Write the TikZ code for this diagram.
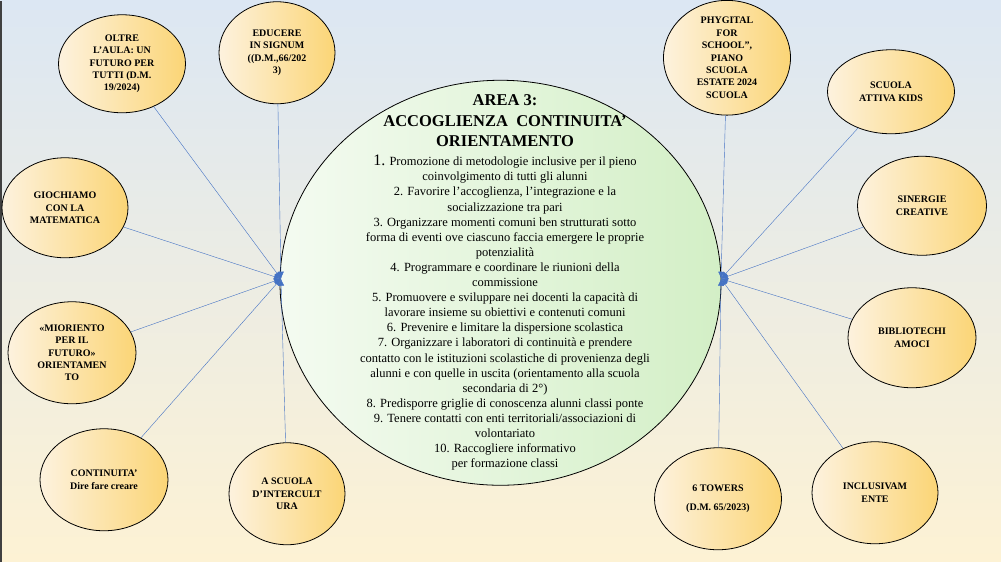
\documentclass[tikz,border=0pt]{standalone}
\usepackage{fontspec}
\setmainfont{LiberationSerif}[Extension=.ttf,UprightFont=*-Regular,BoldFont=*-Bold,ItalicFont=*-Italic,BoldItalicFont=*-BoldItalic]
\usetikzlibrary{arrows.meta,shapes.geometric,positioning}
\definecolor{bgTop}{RGB}{220,231,243}
\definecolor{bgBottom}{RGB}{253,242,212}
\definecolor{linkBlue}{RGB}{68,114,196}
\definecolor{ballLight}{RGB}{253,242,222}
\definecolor{ballDark}{RGB}{251,213,118}
\definecolor{areaLight}{RGB}{244,251,241}
\definecolor{areaDark}{RGB}{211,239,198}

\begin{document}
\begin{tikzpicture}[x=1pt,y=-1pt,
  ball/.style={ellipse,draw=black,thick,left color=ballLight,right color=ballDark,
    inner sep=0pt,align=center,font=\bfseries\fontsize{10}{12.4}\selectfont},
  link/.style={linkBlue,-{Latex[length=7pt,width=6pt]}}]
  % background
  \fill[top color=bgTop,bottom color=bgBottom] (0,0) rectangle (1001,561);
  \fill[black!75] (0,0) rectangle (2,561);
  % central area
  \node[ellipse,draw=black,thick,left color=areaLight,right color=areaDark,
    minimum width=441pt,minimum height=405pt] (area) at (500.5,282) {};
  \node[font=\bfseries\fontsize{16.5}{20.5}\selectfont,align=center] (areaTitle) at (505,120)
    {AREA 3:\\ACCOGLIENZA\ \ CONTINUITA’\\ORIENTAMENTO};
  \node[font=\fontsize{12.5}{15.1}\selectfont,align=center] (areaList) at (505,312)
    {{\fontsize{16}{15.1}\selectfont 1.} Promozione di metodologie inclusive per il pieno\\
    coinvolgimento di tutti gli alunni\\
    2. Favorire l’accoglienza, l’integrazione e la\\
    socializzazione tra pari\\
    3. Organizzare momenti comuni ben strutturati sotto\\
    forma di eventi ove ciascuno faccia emergere le proprie\\
    potenzialità\\
    4. Programmare e coordinare le riunioni della\\
    commissione\\
    5. Promuovere e sviluppare nei docenti la capacità di\\
    lavorare insieme su obiettivi e contenuti comuni\\
    6. Prevenire e limitare la dispersione scolastica\\
    7. Organizzare i laboratori di continuità e prendere\\
    contatto con le istituzioni scolastiche di provenienza degli\\
    alunni e con quelle in uscita (orientamento alla scuola\\
    secondaria di 2°)\\
    8. Predisporre griglie di conoscenza alunni classi ponte\\
    9. Tenere contatti con enti territoriali/associazioni di\\
    volontariato\\
    10. Raccogliere informativo\\
    per formazione classi};
  \coordinate (hubL) at (281,278);
  \coordinate (hubR) at (721,278);
  % left projects
  \node[ball,minimum width=127pt,minimum height=98pt] (oltre) at (122,63)
    {OLTRE\\L’AULA: UN\\FUTURO PER\\TUTTI (D.M.\\19/2024)};
  \node[ball,minimum width=116pt,minimum height=102pt] (educere) at (277,52)
    {EDUCERE\\IN SIGNUM\\((D.M.,66/202\\3)};
  \node[ball,minimum width=126pt,minimum height=100pt] (giochiamo) at (65,207)
    {GIOCHIAMO\\CON LA\\MATEMATICA};
  \node[ball,minimum width=128pt,minimum height=102pt] (mioriento) at (72,352)
    {«MIORIENTO\\PER IL\\FUTURO»\\ORIENTAMEN\\TO};
  \node[ball,minimum width=128pt,minimum height=102pt] (continuita) at (104,479)
    {CONTINUITA’\\Dire fare creare};
  \node[ball,minimum width=116pt,minimum height=102pt] (intercultura) at (287,493)
    {A SCUOLA\\D’INTERCULT\\URA};
  % right projects
  \node[ball,minimum width=127pt,minimum height=104pt] (phygital) at (727,57)
    {PHYGITAL\\FOR\\SCHOOL”,\\PIANO\\SCUOLA\\ESTATE 2024\\SCUOLA};
  \node[ball,minimum width=127pt,minimum height=84pt] (attiva) at (891,91)
    {SCUOLA\\ATTIVA KIDS};
  \node[ball,minimum width=129pt,minimum height=99pt] (sinergie) at (922,205)
    {SINERGIE\\CREATIVE};
  \node[ball,minimum width=128pt,minimum height=100pt] (biblio) at (912,337)
    {BIBLIOTECHI\\AMOCI};
  \node[ball,minimum width=127pt,minimum height=102pt] (towers) at (718,498)
    {6 TOWERS\\[6pt](D.M. 65/2023)};
  \node[ball,minimum width=126pt,minimum height=102pt] (inclusiv) at (875,492)
    {INCLUSIVAM\\ENTE};
  % links
  \foreach \b in {oltre,educere,giochiamo,mioriento,continuita,intercultura}
    \draw[link] (\b) -- (hubL);
  \foreach \b in {phygital,attiva,sinergie,biblio,towers,inclusiv}
    \draw[link] (\b) -- (hubR);
\end{tikzpicture}
\end{document}
